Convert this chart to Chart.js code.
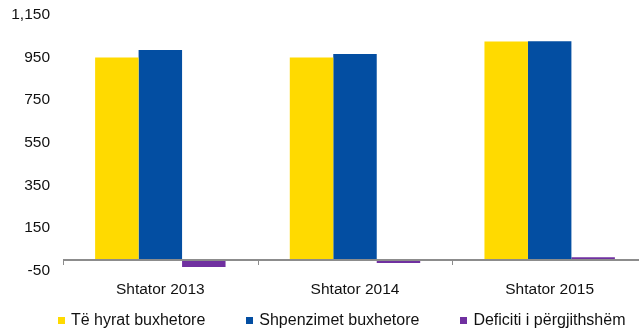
<!DOCTYPE html>
<html>
<head>
<meta charset="utf-8">
<script src="https://cdn.jsdelivr.net/npm/chart.js@4/dist/chart.umd.min.js"></script>
<style>
  html, body { margin: 0; padding: 0; background: #fff; overflow: hidden; }
  #wrap { position: relative; width: 639px; height: 330px; overflow: hidden; }
  #chart { position: absolute; left: 0; top: 0; }
  #legend {
    position: absolute; left: 58px; top: 311px;
    display: flex; gap: 41px;
    font: 16px "Liberation Sans", Arial, sans-serif; color: #111;
  }
  #legend span.item { display: flex; align-items: center; white-space: nowrap; }
  #legend span.box { width: 7px; height: 7px; margin-right: 6px; display: inline-block; }
</style>
</head>
<body>
<div id="wrap">
  <canvas id="chart" width="647" height="330"></canvas>
  <div id="legend"></div>
</div>
<script>
// categories
var periods = ['Shtator 2013', 'Shtator 2014', 'Shtator 2015'];
// series
var revenue = [950, 950, 1026];
var spending = [986, 967, 1027];
var deficit = [-34, -15, 12];
// y-axis ticks
var yMin = -50, yMax = 1150, yStep = 200;

var seriesNames = ['Të hyrat buxhetore', 'Shpenzimet buxhetore', 'Deficiti i përgjithshëm'];
var seriesColors = ['#FFDA00', '#034EA2', '#7030A0'];

var textColor = '#111';
var axisColor = '#8c8c8c';
var font = { family: '"Liberation Sans", Arial, sans-serif', size: 15.5 };

// horizontal axis line at zero, with small ticks hanging below at the category borders
var zeroAxis = {
  id: 'zeroAxis',
  afterDatasetsDraw: function (chart) {
    var x = chart.scales.x, y = chart.scales.y;
    var y0 = Math.round(y.getPixelForValue(0));
    var n = chart.data.labels.length;
    var c = chart.ctx;
    c.save();
    c.strokeStyle = axisColor;
    c.lineWidth = 2;
    c.beginPath();
    c.moveTo(x.left, y0);
    c.lineTo(x.right, y0);
    c.stroke();
    c.lineWidth = 1;
    for (var i = 0; i <= n; i++) {
      var px = Math.round(x.left + i * (x.width / n)) + 0.5;
      c.beginPath();
      c.moveTo(px, y0);
      c.lineTo(px, y0 + 5);
      c.stroke();
    }
    c.restore();
  }
};

var ctx = document.getElementById('chart').getContext('2d');
var chart = new Chart(ctx, {
  type: 'bar',
  data: {
    labels: periods,
    datasets: [revenue, spending, deficit].map(function (d, i) {
      return {
        label: seriesNames[i],
        data: d,
        backgroundColor: seriesColors[i],
        borderWidth: 0,
        barPercentage: 1,
        categoryPercentage: 0.67
      };
    })
  },
  plugins: [zeroAxis],
  options: {
    responsive: false,
    animation: false,
    layout: { padding: { left: 10, top: 15, right: 0, bottom: 21 } },
    plugins: {
      legend: { display: false },
      tooltip: { enabled: false }
    },
    scales: {
      x: {
        grid: { display: false, drawTicks: false },
        border: { display: false },
        ticks: { color: textColor, font: font, padding: 10, maxRotation: 0 }
      },
      y: {
        min: yMin,
        max: yMax,
        afterFit: function (scale) {
          scale.width = 53;
          scale.paddingTop = 0;
          scale.paddingBottom = 0;
        },
        grid: { display: false, drawTicks: false },
        border: { display: false },
        ticks: {
          stepSize: yStep,
          color: textColor,
          font: font,
          padding: 13,
          callback: function (v) { return v.toLocaleString('en-US'); }
        }
      }
    }
  }
});

// legend built from the chart's datasets
var legend = document.getElementById('legend');
chart.data.datasets.forEach(function (ds) {
  var item = document.createElement('span');
  item.className = 'item';
  var box = document.createElement('span');
  box.className = 'box';
  box.style.background = ds.backgroundColor;
  item.appendChild(box);
  item.appendChild(document.createTextNode(ds.label));
  legend.appendChild(item);
});
</script>
</body>
</html>
